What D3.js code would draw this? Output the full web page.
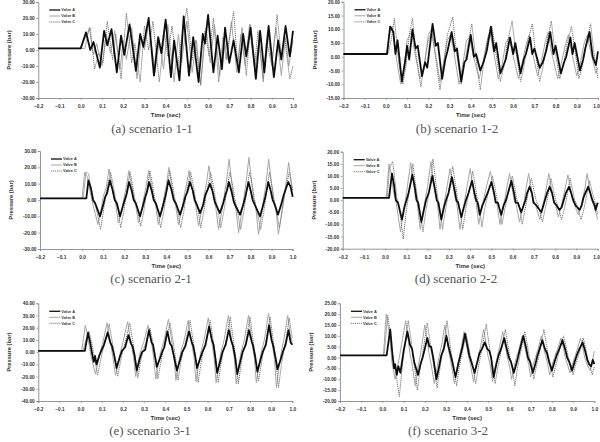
<!DOCTYPE html>
<html>
<head>
<meta charset="utf-8">
<script src="https://cdn.jsdelivr.net/npm/d3@7"></script>
<style>
  body { margin: 0; background: #fff; }
  svg { display: block; }
  .tick text { font-family: "Liberation Sans", Arial, sans-serif; font-weight: bold; fill: #333; }
  .ttl { font-family: "Liberation Sans", Arial, sans-serif; font-weight: bold; fill: #333; }
  .cap { font-family: "Liberation Serif", "DejaVu Serif", serif; fill: #555; }
</style>
</head>
<body>
<svg id="chart" width="600" height="442"></svg>
<script>
// captions + axes of the six panels
const captions = ['(a) scenario 1-1', '(b) scenario 1-2', '(c) scenario 2-1', '(d) scenario 2-2', '(e) scenario 3-1', '(f) scenario 3-2']
const yMins = [-30, -15, -30, -20, -40, -20]
const yMaxs = [30, 20, 30, 20, 40, 25]
const yTickSteps = [10, 5, 10, 5, 10, 5]
const xTicks = [-0.2, -0.1, 0.0, 0.1, 0.2, 0.3, 0.4, 0.5, 0.6, 0.7, 0.8, 0.9, 1.0]
const seriesNames = ['Valve A', 'Valve B', 'Valve C']

// [time (sec), pressure (bar)]
const s11_A = [[-0.2,1],[0.0,1],[0.025,11],[0.045,0],[0.06,5],[0.09,-11],[0.11,12],[0.125,3],[0.145,13],[0.17,-14],[0.19,9],[0.205,-3],[0.23,16],[0.26,-13],[0.28,10],[0.295,2],[0.32,20],[0.345,-16],[0.365,8],[0.38,-2],[0.4,19],[0.425,-17],[0.44,6],[0.465,-19],[0.485,21],[0.51,-16],[0.53,8],[0.555,-20],[0.575,10],[0.585,4],[0.6,22],[0.625,-14],[0.645,9],[0.665,-12],[0.68,14],[0.7,-8],[0.72,6],[0.745,-14],[0.765,10],[0.78,-4],[0.8,14],[0.825,-18],[0.845,12],[0.865,-14],[0.885,15],[0.91,-17],[0.93,6],[0.945,-6],[0.965,15],[0.985,-4],[1.0,12]]
const s11_B = [[-0.2,1],[0.02,1],[0.04,14],[0.06,-3],[0.075,4],[0.1,-10],[0.12,10],[0.14,-2],[0.16,12],[0.185,-12],[0.2,6],[0.215,-6],[0.24,14],[0.265,-18],[0.285,8],[0.3,0],[0.32,17],[0.35,-14],[0.37,6],[0.39,-12],[0.41,16],[0.44,-20],[0.46,10],[0.475,-8],[0.5,18],[0.525,-14],[0.545,6],[0.565,-22],[0.59,14],[0.61,-8],[0.63,16],[0.655,-16],[0.675,8],[0.69,-6],[0.71,18],[0.735,-14],[0.755,10],[0.775,-10],[0.795,16],[0.82,-12],[0.84,6],[0.86,-18],[0.88,12],[0.9,-8],[0.92,14],[0.945,-16],[0.965,8],[0.98,-10],[1.0,6]]
const s11_C = [[-0.2,1],[0.0,1],[0.01,5],[0.045,14],[0.065,-12],[0.085,-2],[0.105,-8],[0.125,18],[0.15,-6],[0.165,10],[0.19,-18],[0.215,23],[0.24,-8],[0.255,4],[0.28,-20],[0.3,15],[0.32,0],[0.34,18],[0.37,-20],[0.395,10],[0.41,-4],[0.43,15],[0.455,-12],[0.48,12],[0.5,26],[0.525,-6],[0.54,6],[0.565,-22],[0.585,12],[0.605,-4],[0.625,20],[0.65,-20],[0.67,8],[0.685,-6],[0.72,24],[0.74,-10],[0.76,14],[0.78,-16],[0.8,16],[0.82,-8],[0.835,12],[0.86,-20],[0.875,6],[0.9,-10],[0.925,22],[0.945,-4],[0.96,8],[0.985,-18],[1.0,-10]]

const s12_A = [[-0.2,1],[0.005,1],[0.02,11],[0.035,9],[0.045,1],[0.055,6],[0.075,-9],[0.09,-2],[0.1,4],[0.11,-1],[0.125,10],[0.14,3],[0.15,4],[0.17,-7],[0.185,-2],[0.195,-4],[0.22,12],[0.235,4],[0.245,5],[0.265,-8],[0.28,-1],[0.29,2],[0.31,9],[0.325,2],[0.335,3],[0.355,-9],[0.37,-2],[0.38,-1],[0.4,8],[0.415,0],[0.425,1],[0.445,-5],[0.46,-2],[0.475,2],[0.495,11],[0.51,2],[0.52,5],[0.54,-6],[0.555,-3],[0.565,-1],[0.585,7],[0.6,1],[0.61,5],[0.635,-6],[0.65,-1],[0.66,1],[0.68,7],[0.69,1],[0.7,3],[0.725,-4],[0.74,-2],[0.755,2],[0.775,9],[0.79,1],[0.8,4],[0.825,-6],[0.84,-2],[0.85,0],[0.87,7],[0.88,1],[0.89,5],[0.915,-5],[0.93,-1],[0.94,3],[0.96,9],[0.975,0],[0.99,-3],[1.0,2]]
const s12_B = [[-0.2,1],[0.005,1],[0.015,8],[0.03,11],[0.05,-1],[0.07,-10],[0.085,-4],[0.1,6],[0.12,9],[0.135,2],[0.16,-8],[0.18,-4],[0.2,8],[0.215,10],[0.23,3],[0.255,-9],[0.27,-3],[0.29,6],[0.305,8],[0.32,2],[0.345,-10],[0.36,-4],[0.38,6],[0.395,7],[0.41,1],[0.44,-8],[0.455,-3],[0.475,5],[0.49,9],[0.505,3],[0.53,-8],[0.545,-4],[0.565,5],[0.58,7],[0.595,2],[0.625,-8],[0.64,-3],[0.66,4],[0.675,8],[0.69,2],[0.715,-7],[0.73,-3],[0.75,5],[0.765,9],[0.78,2],[0.81,-8],[0.825,-3],[0.845,4],[0.86,8],[0.875,2],[0.9,-7],[0.915,-3],[0.935,5],[0.95,8],[0.965,2],[0.99,-6],[1.0,-4]]
const s12_C = [[-0.2,1],[0.01,1],[0.025,6],[0.04,14],[0.06,-2],[0.08,-10],[0.095,-3],[0.11,8],[0.125,14],[0.14,2],[0.165,-11],[0.18,-3],[0.2,6],[0.215,9],[0.23,2],[0.255,-12],[0.27,-4],[0.29,8],[0.315,14.5],[0.33,3],[0.355,-10],[0.37,-3],[0.39,6],[0.405,12],[0.42,2],[0.445,-12],[0.46,-3],[0.48,7],[0.5,11],[0.515,3],[0.54,-9],[0.555,-4],[0.575,6],[0.595,13],[0.61,3],[0.635,-9],[0.65,-4],[0.67,6],[0.69,12],[0.705,2],[0.725,-9],[0.74,-4],[0.76,6],[0.78,13],[0.795,3],[0.82,-8],[0.835,-4],[0.855,5],[0.875,11],[0.89,3],[0.91,-8],[0.925,-4],[0.945,5],[0.965,12],[0.98,2],[1.0,-8]]

const s21_A = [[-0.2,1],[0.02,1],[0.03,12],[0.042,7],[0.052,0],[0.062,-2],[0.085,-10],[0.1,-3],[0.11,2],[0.118,4],[0.132,12],[0.145,6],[0.155,0],[0.165,-2],[0.18,-10],[0.195,-3],[0.205,1],[0.212,4],[0.223,11],[0.235,6],[0.245,0],[0.255,-2],[0.275,-10],[0.29,-3],[0.3,2],[0.308,5],[0.318,11],[0.33,6],[0.34,0],[0.35,-2],[0.37,-10],[0.385,-3],[0.395,2],[0.4,5],[0.41,12],[0.425,6],[0.435,0],[0.445,-2],[0.465,-9],[0.48,-3],[0.49,2],[0.5,5],[0.512,11],[0.525,6],[0.535,0],[0.545,-3],[0.56,-8],[0.575,-3],[0.585,3],[0.595,6],[0.607,10],[0.62,5],[0.63,-1],[0.64,-4],[0.654,-8],[0.67,-2],[0.68,3],[0.688,6],[0.697,11],[0.71,5],[0.72,-1],[0.73,-4],[0.75,-9],[0.765,-3],[0.775,2],[0.78,5],[0.79,11],[0.8,6],[0.81,0],[0.82,-3],[0.845,-10],[0.86,-3],[0.87,2],[0.875,5],[0.884,11],[0.895,6],[0.905,0],[0.915,-3],[0.93,-9],[0.945,-3],[0.955,2],[0.965,6],[0.979,11],[0.99,8],[1.0,2]]
const s21_B = [[-0.2,1],[0.0,1],[0.012,17],[0.025,14],[0.04,4],[0.05,-2],[0.075,-15],[0.09,-6],[0.1,2],[0.115,8],[0.128,19],[0.14,10],[0.15,2],[0.16,-3],[0.172,-14],[0.19,-6],[0.2,2],[0.21,8],[0.222,18],[0.235,9],[0.245,1],[0.255,-4],[0.268,-14],[0.285,-5],[0.295,3],[0.305,9],[0.316,18],[0.33,9],[0.34,1],[0.35,-4],[0.362,-15],[0.38,-5],[0.39,3],[0.4,9],[0.412,20],[0.425,9],[0.435,1],[0.445,-4],[0.458,-15],[0.475,-5],[0.485,3],[0.495,9],[0.508,18],[0.52,9],[0.53,1],[0.54,-4],[0.553,-16],[0.57,-5],[0.58,3],[0.59,10],[0.602,21],[0.615,10],[0.625,1],[0.635,-5],[0.648,-18],[0.665,-6],[0.675,3],[0.685,11],[0.698,25],[0.71,11],[0.72,1],[0.73,-5],[0.743,-20],[0.76,-6],[0.77,3],[0.78,12],[0.792,26],[0.805,11],[0.815,1],[0.825,-5],[0.838,-21],[0.855,-6],[0.865,3],[0.875,12],[0.886,25],[0.9,10],[0.91,1],[0.92,-5],[0.932,-21],[0.95,-6],[0.96,3],[0.97,12],[0.981,23],[0.995,8],[1.0,2]]
const s21_C = [[-0.2,1],[0.005,1],[0.018,17],[0.03,16],[0.045,6],[0.055,0],[0.065,-4],[0.088,-18],[0.1,-8],[0.11,1],[0.12,8],[0.135,17],[0.148,9],[0.158,1],[0.168,-4],[0.183,-17],[0.198,-7],[0.208,2],[0.215,8],[0.228,17],[0.24,9],[0.25,1],[0.26,-4],[0.278,-16],[0.293,-7],[0.303,2],[0.31,8],[0.322,18],[0.335,9],[0.345,1],[0.355,-4],[0.373,-17],[0.388,-7],[0.398,2],[0.405,8],[0.416,18],[0.43,9],[0.44,1],[0.45,-4],[0.468,-17],[0.483,-7],[0.493,2],[0.5,8],[0.515,17],[0.528,9],[0.538,1],[0.548,-4],[0.563,-17],[0.578,-7],[0.588,2],[0.598,9],[0.61,17],[0.623,9],[0.633,1],[0.643,-5],[0.658,-17],[0.673,-7],[0.683,2],[0.69,9],[0.702,17],[0.715,9],[0.725,1],[0.735,-5],[0.753,-18],[0.768,-7],[0.778,2],[0.785,9],[0.795,17],[0.808,9],[0.818,1],[0.828,-5],[0.848,-18],[0.863,-7],[0.873,2],[0.88,9],[0.89,17],[0.9,9],[0.91,1],[0.92,-5],[0.937,-17],[0.95,-7],[0.96,2],[0.97,9],[0.984,17],[0.995,10],[1.0,6]]

const s22_A = [[-0.2,1],[0.018,1],[0.032,11],[0.042,6],[0.05,0],[0.06,-1],[0.079,-8],[0.09,-3],[0.1,0],[0.11,3],[0.128,10.5],[0.14,5],[0.148,0],[0.155,-1],[0.17,-9],[0.182,-4],[0.192,0],[0.205,3],[0.222,10],[0.235,4],[0.243,0],[0.25,-1],[0.264,-8],[0.276,-3],[0.286,0],[0.298,3],[0.314,9.5],[0.327,4],[0.335,0],[0.343,-1],[0.358,-7],[0.37,-3],[0.38,0],[0.392,3],[0.409,8],[0.42,3],[0.428,0],[0.435,-1],[0.445,-6],[0.458,-2],[0.468,0],[0.482,3],[0.5,7.5],[0.512,3],[0.52,-1],[0.53,-1],[0.546,-6],[0.558,-2],[0.568,0],[0.578,3],[0.594,8],[0.606,3],[0.614,-1],[0.624,-1],[0.64,-5],[0.652,-2],[0.66,0],[0.668,3],[0.68,5.5],[0.69,3],[0.698,-1],[0.71,-2],[0.735,-5],[0.745,-2],[0.755,1],[0.762,3],[0.774,5.5],[0.785,3],[0.795,-1],[0.805,-2],[0.82,-4],[0.83,-3],[0.84,0],[0.85,3],[0.865,5.5],[0.875,3],[0.885,0],[0.895,-2],[0.915,-4],[0.925,-2],[0.933,1],[0.942,3],[0.955,5.5],[0.965,3],[0.975,0],[0.985,-2],[0.99,-4],[1.0,-1]]
const s22_B = [[-0.2,1],[0.005,1],[0.018,15],[0.028,11],[0.04,3],[0.05,0],[0.072,-13],[0.085,-5],[0.095,0],[0.105,6],[0.12,15.5],[0.132,8],[0.142,1],[0.15,-1],[0.165,-12],[0.178,-5],[0.188,0],[0.2,6],[0.215,16],[0.228,8],[0.238,1],[0.245,-1],[0.258,-12],[0.27,-5],[0.28,0],[0.292,6],[0.305,13],[0.318,7],[0.328,1],[0.336,-1],[0.352,-12],[0.364,-5],[0.374,0],[0.386,6],[0.4,13],[0.412,6],[0.42,1],[0.428,-1],[0.44,-10],[0.452,-4],[0.462,0],[0.475,5],[0.495,12],[0.507,6],[0.516,1],[0.525,-1],[0.54,-10],[0.552,-4],[0.562,0],[0.572,5],[0.585,11],[0.597,5],[0.607,0],[0.617,-2],[0.632,-9],[0.645,-4],[0.655,0],[0.663,5],[0.675,11],[0.687,5],[0.697,0],[0.708,-2],[0.728,-8],[0.74,-3],[0.75,1],[0.758,5],[0.77,11],[0.782,5],[0.792,0],[0.802,-2],[0.815,-7],[0.827,-3],[0.837,1],[0.847,5],[0.86,10.5],[0.872,5],[0.882,0],[0.892,-2],[0.908,-6],[0.92,-3],[0.93,1],[0.94,5],[0.95,11],[0.962,5],[0.972,0],[0.985,-3],[1.0,-8]]
const s22_C = [[-0.2,1],[0.01,1],[0.02,13],[0.035,16],[0.045,9],[0.055,1],[0.065,-2],[0.085,-16],[0.097,-6],[0.107,0],[0.117,6],[0.13,15],[0.142,7],[0.152,1],[0.16,-2],[0.178,-13],[0.19,-5],[0.2,0],[0.21,6],[0.225,17],[0.237,8],[0.247,1],[0.255,-2],[0.27,-12],[0.282,-5],[0.292,0],[0.303,6],[0.318,14],[0.33,7],[0.34,1],[0.348,-2],[0.365,-12],[0.377,-5],[0.387,0],[0.398,5],[0.412,12],[0.424,6],[0.434,0],[0.442,-2],[0.455,-11],[0.467,-4],[0.477,0],[0.49,5],[0.505,10],[0.517,5],[0.527,0],[0.535,-2],[0.55,-10],[0.562,-4],[0.572,0],[0.584,5],[0.598,10],[0.61,5],[0.62,0],[0.63,-2],[0.645,-10],[0.657,-4],[0.667,0],[0.676,5],[0.688,9],[0.7,4],[0.71,0],[0.72,-2],[0.74,-9],[0.752,-4],[0.762,0],[0.77,4],[0.78,9],[0.792,4],[0.802,0],[0.812,-2],[0.83,-8],[0.842,-4],[0.852,0],[0.86,4],[0.87,9],[0.882,4],[0.892,0],[0.902,-2],[0.922,-8],[0.934,-4],[0.944,0],[0.952,4],[0.962,8],[0.975,3],[0.985,0],[1.0,-6]]

const s31_A = [[-0.2,1],[0.02,1],[0.035,16],[0.045,8],[0.055,-2],[0.062,-8],[0.068,-3],[0.075,-10],[0.09,-2],[0.1,2],[0.11,6],[0.128,16],[0.14,8],[0.148,5],[0.158,-2],[0.17,-13],[0.185,-4],[0.195,1],[0.21,4],[0.226,14],[0.238,7],[0.245,5],[0.255,-3],[0.265,-15],[0.28,-5],[0.29,0],[0.305,2],[0.323,18],[0.335,8],[0.342,6],[0.35,-2],[0.36,-12],[0.375,-5],[0.385,0],[0.395,4],[0.41,17],[0.422,7],[0.43,5],[0.44,-3],[0.455,-15],[0.47,-6],[0.48,0],[0.495,5],[0.512,17],[0.525,8],[0.532,5],[0.54,-2],[0.55,-13],[0.565,-5],[0.575,0],[0.59,6],[0.607,21],[0.62,10],[0.628,6],[0.635,-3],[0.645,-17],[0.66,-7],[0.67,0],[0.685,6],[0.7,18],[0.712,9],[0.72,5],[0.73,-4],[0.74,-18],[0.755,-7],[0.765,0],[0.78,6],[0.795,18],[0.808,9],[0.815,5],[0.825,-4],[0.835,-16],[0.85,-6],[0.86,0],[0.875,6],[0.89,22],[0.902,10],[0.91,5],[0.92,-4],[0.93,-14],[0.945,-6],[0.955,0],[0.968,6],[0.982,18],[0.992,8],[1.0,6]]
const s31_B = [[-0.2,1],[0.005,1],[0.022,22],[0.032,14],[0.042,4],[0.05,-4],[0.07,-18],[0.082,-8],[0.092,0],[0.105,8],[0.125,24],[0.137,12],[0.145,4],[0.152,-4],[0.165,-19],[0.178,-8],[0.188,0],[0.2,8],[0.222,25],[0.234,12],[0.242,4],[0.25,-4],[0.26,-20],[0.272,-8],[0.282,0],[0.298,8],[0.318,22],[0.33,12],[0.338,4],[0.345,-5],[0.355,-22],[0.368,-9],[0.378,0],[0.393,9],[0.415,27],[0.427,13],[0.435,4],[0.442,-5],[0.45,-23],[0.463,-9],[0.473,0],[0.488,9],[0.508,26],[0.52,13],[0.528,4],[0.536,-5],[0.545,-24],[0.558,-9],[0.568,0],[0.583,10],[0.603,28],[0.615,14],[0.623,4],[0.631,-5],[0.64,-25],[0.653,-10],[0.663,0],[0.678,10],[0.698,30],[0.71,14],[0.718,4],[0.726,-5],[0.735,-26],[0.748,-10],[0.758,0],[0.773,10],[0.793,30],[0.805,14],[0.813,4],[0.821,-5],[0.83,-25],[0.843,-10],[0.853,0],[0.868,10],[0.888,32],[0.9,15],[0.908,4],[0.916,-6],[0.925,-29],[0.938,-11],[0.948,0],[0.96,10],[0.978,30],[0.99,15],[1.0,8]]
const s31_C = [[-0.2,1],[0.01,1],[0.025,10],[0.04,17],[0.052,8],[0.06,0],[0.066,-5],[0.08,-19],[0.093,-8],[0.103,0],[0.117,9],[0.135,23],[0.147,11],[0.155,3],[0.162,-5],[0.175,-20],[0.188,-8],[0.198,0],[0.212,9],[0.232,24],[0.244,11],[0.252,3],[0.259,-5],[0.27,-21],[0.283,-8],[0.293,0],[0.308,8],[0.327,20],[0.339,10],[0.347,3],[0.354,-5],[0.365,-22],[0.378,-9],[0.388,0],[0.403,9],[0.422,24],[0.434,12],[0.442,3],[0.449,-5],[0.46,-23],[0.473,-9],[0.483,0],[0.498,10],[0.517,26],[0.529,12],[0.537,3],[0.544,-5],[0.555,-25],[0.568,-10],[0.578,0],[0.593,10],[0.612,26],[0.624,12],[0.632,3],[0.639,-5],[0.65,-25],[0.663,-10],[0.673,0],[0.688,10],[0.707,29],[0.719,13],[0.727,3],[0.734,-6],[0.745,-26],[0.758,-10],[0.768,0],[0.782,10],[0.8,29],[0.812,13],[0.82,3],[0.827,-6],[0.84,-24],[0.853,-10],[0.863,0],[0.877,10],[0.895,29],[0.907,13],[0.915,3],[0.922,-6],[0.935,-29],[0.948,-11],[0.958,0],[0.97,10],[0.985,28],[1.0,12]]

const s32_A = [[-0.2,1],[0.02,1],[0.037,13],[0.047,2],[0.055,-5],[0.06,-3],[0.068,-8],[0.075,-4],[0.085,-7],[0.1,3],[0.118,12],[0.13,6],[0.14,4],[0.15,-2],[0.168,-8],[0.18,-3],[0.19,0],[0.2,4],[0.212,9],[0.222,5],[0.23,5],[0.24,0],[0.255,-10],[0.268,-4],[0.278,1],[0.29,4],[0.302,10],[0.312,5],[0.32,2],[0.33,-2],[0.345,-9],[0.358,-3],[0.368,1],[0.378,5],[0.39,11],[0.402,5],[0.41,1],[0.42,-2],[0.435,-7],[0.448,-2],[0.458,2],[0.47,4],[0.483,7],[0.495,4],[0.505,3],[0.513,0],[0.525,-9],[0.538,-3],[0.548,1],[0.56,4],[0.575,9],[0.587,4],[0.597,0],[0.607,-2],[0.62,-7],[0.632,-3],[0.642,1],[0.652,5],[0.665,10],[0.677,5],[0.687,0],[0.697,-2],[0.71,-7],[0.722,-3],[0.732,1],[0.742,4],[0.755,8],[0.767,4],[0.777,2],[0.787,-2],[0.8,-6],[0.812,-2],[0.822,1],[0.835,4],[0.85,8],[0.862,4],[0.872,0],[0.882,-2],[0.895,-6],[0.907,-2],[0.917,1],[0.93,4],[0.945,7],[0.957,3],[0.967,-1],[0.975,-3],[0.985,-4],[0.993,-1],[1.0,-3]]
const s32_B = [[-0.2,1],[0.005,1],[0.018,20],[0.028,14],[0.038,6],[0.045,-2],[0.06,-10],[0.072,-4],[0.08,0],[0.092,7],[0.11,17],[0.122,8],[0.13,2],[0.14,-3],[0.155,-13],[0.167,-5],[0.177,0],[0.187,6],[0.2,15],[0.212,8],[0.22,2],[0.23,-3],[0.245,-12],[0.257,-5],[0.267,0],[0.28,6],[0.295,15],[0.307,7],[0.315,2],[0.325,-3],[0.34,-12],[0.352,-5],[0.362,0],[0.373,5],[0.385,12],[0.397,6],[0.405,1],[0.415,-3],[0.43,-11],[0.442,-4],[0.452,0],[0.463,5],[0.478,13],[0.49,6],[0.498,1],[0.508,-3],[0.52,-11],[0.532,-4],[0.542,0],[0.553,5],[0.568,12],[0.58,5],[0.588,1],[0.598,-3],[0.61,-10],[0.622,-4],[0.632,0],[0.645,4],[0.66,10],[0.672,5],[0.68,1],[0.69,-3],[0.7,-9],[0.712,-3],[0.722,0],[0.735,4],[0.75,10],[0.762,4],[0.77,1],[0.78,-3],[0.79,-8],[0.802,-3],[0.812,0],[0.827,4],[0.843,9],[0.855,4],[0.863,0],[0.873,-3],[0.885,-7],[0.897,-3],[0.907,0],[0.92,4],[0.935,9],[0.947,4],[0.955,0],[0.965,-3],[0.98,-6],[0.99,-2],[1.0,3]]
const s32_C = [[-0.2,1],[0.008,1],[0.025,19.5],[0.035,13],[0.045,4],[0.055,-3],[0.065,-8],[0.08,-18],[0.092,-6],[0.1,1],[0.11,8],[0.122,17],[0.134,9],[0.142,3],[0.15,-3],[0.165,-15],[0.177,-6],[0.187,0],[0.198,7],[0.212,16],[0.224,8],[0.232,2],[0.242,-3],[0.258,-14],[0.27,-6],[0.28,0],[0.292,7],[0.305,17],[0.317,8],[0.325,2],[0.335,-3],[0.35,-13],[0.362,-5],[0.372,0],[0.383,5],[0.395,11],[0.407,5],[0.415,1],[0.425,-3],[0.44,-12],[0.452,-5],[0.462,0],[0.475,7],[0.49,15.5],[0.502,7],[0.51,2],[0.52,-3],[0.532,-12],[0.544,-5],[0.554,0],[0.566,6],[0.58,13],[0.592,6],[0.6,1],[0.61,-3],[0.625,-13],[0.637,-5],[0.647,0],[0.658,5],[0.672,12],[0.684,6],[0.692,1],[0.702,-3],[0.715,-10],[0.727,-4],[0.737,0],[0.748,6],[0.762,13],[0.774,6],[0.782,1],[0.792,-3],[0.805,-9],[0.817,-4],[0.827,0],[0.84,5],[0.855,10],[0.867,5],[0.875,1],[0.885,-3],[0.9,-8],[0.912,-3],[0.922,0],[0.935,4],[0.948,9],[0.96,4],[0.968,0],[0.978,-3],[0.99,-8],[1.0,-4]]

const panelSeries = [
  [s11_A, s11_B, s11_C], [s12_A, s12_B, s12_C],
  [s21_A, s21_B, s21_C], [s22_A, s22_B, s22_C],
  [s31_A, s31_B, s31_C], [s32_A, s32_B, s32_C]
]

// where each plot box sits on the page: [left, right, top, bottom], caption centre + baseline
const boxes = [[38.3, 293, 2, 98], [343.5, 598, 1.8, 98], [40, 292.7, 151, 249], [342.7, 597.7, 151.7, 248.7], [38.3, 292.3, 303.3, 401], [340, 594.3, 303.3, 401]]
const capPos = [[152, 132.5], [457, 132.5], [151, 282.5], [456, 282.5], [150, 434.5], [448, 434.5]]

// Valve A, B, C
const lineStyles = [
  {stroke: '#111', width: 1.8, dash: null},
  {stroke: '#a6a6a6', width: 1.0, dash: null},
  {stroke: '#777', width: 1.0, dash: '1.2,0.8'}
]
const drawOrder = [1, 2, 0]

let svg = d3.select('#chart')
svg.append('defs').append('filter').attr('id', 'soft')
  .append('feGaussianBlur').attr('stdDeviation', 0.3)

panelSeries.forEach((series, p) => {
  let [left, right, top, bottom] = boxes[p]
  let g = svg.append('g')

  let xScale = d3.scaleLinear().domain([-0.2, 1.0]).range([left, right])
  let yScale = d3.scaleLinear().domain([yMins[p], yMaxs[p]]).range([bottom, top])
  let yTicks = d3.range(yMins[p], yMaxs[p] + 0.001, yTickSteps[p])

  let yAxis = d3.axisLeft(yScale).tickValues(yTicks).tickSize(2).tickPadding(1.5).tickFormat(d => d.toFixed(2))
  let yg = g.append('g').attr('transform', 'translate(' + left + ',0)').call(yAxis)
  yg.selectAll('text').style('font-size', '4.8px')

  let xAxis = d3.axisBottom(xScale).tickValues(xTicks).tickSize(2).tickPadding(5).tickFormat(d3.format('.1f'))
  let xg = g.append('g').attr('transform', 'translate(0,' + bottom + ')').call(xAxis)
  xg.selectAll('text').style('font-size', '4.8px')
  // last label would run off the page edge on the right-hand panels
  if (right > 595) {
    xg.selectAll('.tick').filter(d => d === 1.0).select('text')
      .attr('text-anchor', 'end').attr('x', 599.5 - right)
  }

  g.selectAll('.domain').attr('stroke', '#8a8a8a').attr('stroke-width', 0.9)
  g.selectAll('.tick line').attr('stroke', '#8a8a8a').attr('stroke-width', 0.7)

  // series
  let line = d3.line().x(d => xScale(d[0])).y(d => yScale(d[1]))
  let lg = g.append('g').attr('filter', 'url(#soft)')
  drawOrder.forEach(k => {
    let st = lineStyles[k]
    lg.append('path').datum(series[k])
      .attr('fill', 'none').attr('stroke', st.stroke).attr('stroke-width', st.width)
      .attr('stroke-dasharray', st.dash).attr('stroke-linejoin', 'round')
      .attr('d', line)
  })

  // legend
  seriesNames.forEach((name, k) => {
    let st = lineStyles[k]
    let ly = top + 8 + k * 6
    g.append('line').attr('x1', left + 11).attr('x2', left + 22).attr('y1', ly).attr('y2', ly)
      .attr('stroke', st.stroke).attr('stroke-width', k == 0 ? 1.3 : st.width).attr('stroke-dasharray', st.dash)
    g.append('text').attr('class', 'ttl').attr('x', left + 23).attr('y', ly + 1.3)
      .style('font-size', '3.9px').text(name)
  })

  // axis titles
  g.append('text').attr('class', 'ttl').attr('x', (left + right) / 2).attr('y', bottom + 19)
    .attr('text-anchor', 'middle').style('font-size', '6px').text('Time (sec)')
  g.append('text').attr('class', 'ttl')
    .attr('transform', 'translate(' + (left - 27) + ',' + ((top + bottom) / 2) + ') rotate(-90)')
    .attr('text-anchor', 'middle').style('font-size', '5.8px').text('Pressure (bar)')

  svg.append('text').attr('class', 'cap').attr('x', capPos[p][0]).attr('y', capPos[p][1])
    .attr('text-anchor', 'middle').style('font-size', '13px').text(captions[p])
})
</script>
</body>
</html>
